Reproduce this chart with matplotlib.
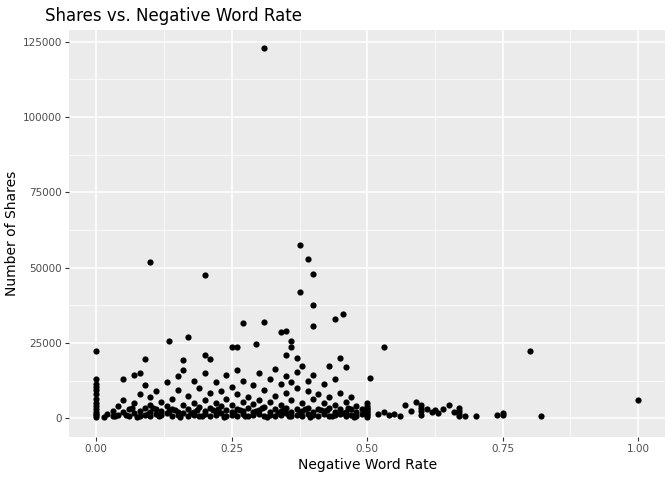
import matplotlib
matplotlib.use('Agg')
import matplotlib.pyplot as plt

# Outliers and sparse points
x_sparse = [0.31, 0.10, 0.20, 0.375, 0.39, 0.40, 0.375, 0.40, 0.40, 0.44, 0.455, 0.27, 0.31, 0.34, 0.35,
            0.17, 0.135, 0.25, 0.26, 0.36, 0.295, 0.0, 0.53, 0.80, 1.0, 0.82, 0.20, 0.21, 0.09, 0.16,
            0.35, 0.36, 0.37, 0.45, 0.43, 0.08, 0.07,
            0.0, 0.0, 0.0, 0.0, 0.0, 0.0, 0.0, 0.0, 0.0, 0.0, 0.0, 0.0, 0.0,
            0.5, 0.5, 0.5, 0.5, 0.5, 0.5, 0.5, 0.5, 0.5, 0.505, 0.75, 0.75, 0.74, 0.67, 0.67, 0.67, 0.67,
            0.6, 0.6, 0.6, 0.6, 0.59, 0.57, 0.55, 0.56, 0.54, 0.53, 0.52, 0.625, 0.64, 0.65, 0.63, 0.70,
            0.68, 0.58, 0.62, 0.66, 0.61]
y_sparse = [122800, 52000, 47500, 57500, 53000, 47800, 42000, 37500, 30500, 33000, 34500, 31500, 32000, 28500, 29000,
            27000, 25500, 23800, 23500, 25500, 24500, 22200, 23500, 22300, 6200, 800, 21000, 19800, 19800, 19500,
            21000, 23800, 20000, 20000, 17500, 15000, 14500,
            13000, 11500, 10500, 9500, 8000, 6500, 5000, 4000, 3000, 2000, 1500, 1000, 500,
            5000, 4000, 3500, 3000, 2500, 2000, 1500, 1000, 500, 13500, 1800, 1000, 1200, 3500, 2500, 1500, 800,
            4500, 3500, 2500, 1200, 5500, 4500, 1500, 900, 1200, 2000, 1500, 2800, 3000, 4300, 1800, 800,
            600, 2300, 2000, 2000, 3000]

# Dense band
x_band = [0.02, 0.03, 0.03, 0.04, 0.04, 0.05, 0.05, 0.05, 0.06, 0.06, 0.07, 0.07, 0.08, 0.08, 0.08, 0.09, 0.09, 0.09,
          0.10, 0.10, 0.10, 0.10, 0.11, 0.11, 0.11, 0.12, 0.12, 0.12, 0.13, 0.13, 0.13, 0.14, 0.14, 0.14,
          0.15, 0.15, 0.15, 0.15, 0.16, 0.16, 0.16, 0.17, 0.17, 0.17, 0.18, 0.18, 0.18, 0.18, 0.19, 0.19, 0.19,
          0.20, 0.20, 0.20, 0.20, 0.21, 0.21, 0.21, 0.22, 0.22, 0.22, 0.22, 0.23, 0.23, 0.23, 0.24, 0.24, 0.24, 0.24,
          0.25, 0.25, 0.25, 0.25, 0.26, 0.26, 0.26, 0.26, 0.27, 0.27, 0.27, 0.27, 0.28, 0.28, 0.28,
          0.29, 0.29, 0.29, 0.29, 0.30, 0.30, 0.30, 0.30, 0.31, 0.31, 0.31, 0.32, 0.32, 0.32, 0.32,
          0.33, 0.33, 0.33, 0.33, 0.34, 0.34, 0.34, 0.34, 0.35, 0.35, 0.35, 0.35, 0.36, 0.36, 0.36, 0.36,
          0.37, 0.37, 0.37, 0.37, 0.38, 0.38, 0.38, 0.38, 0.39, 0.39, 0.39, 0.39, 0.40, 0.40, 0.40, 0.40,
          0.41, 0.41, 0.41, 0.42, 0.42, 0.42, 0.42, 0.43, 0.43, 0.43, 0.44, 0.44, 0.44, 0.44,
          0.45, 0.45, 0.45, 0.46, 0.46, 0.46, 0.46, 0.47, 0.47, 0.47, 0.48, 0.48, 0.48, 0.49, 0.49,
          0.015, 0.035, 0.055, 0.075, 0.095, 0.115, 0.135, 0.155, 0.175, 0.195, 0.215, 0.235, 0.255, 0.275,
          0.295, 0.315, 0.335, 0.355, 0.375, 0.395, 0.415, 0.435, 0.455, 0.475, 0.065, 0.105, 0.145, 0.185,
          0.225, 0.265, 0.305, 0.345, 0.385, 0.425, 0.465]
y_band = [1500, 2500, 800, 4000, 1200, 2000, 6000, 13000, 3000, 900, 5000, 1800, 2500, 8000, 600, 3500, 1200, 11000,
          2000, 7000, 4500, 800, 3000, 1500, 9000, 5500, 1000, 2500, 4000, 1800, 12000, 3000, 700, 6500,
          2200, 14000, 9500, 1100, 4500, 1600, 16000, 3200, 800, 7500, 2000, 5000, 12500, 1200, 3800, 900, 10000,
          2500, 6000, 1500, 15000, 3500, 700, 8500, 2000, 5000, 12000, 1000, 4200, 1600, 9000, 2800, 600, 6500, 14500,
          2000, 4500, 1100, 10500, 3000, 8000, 16000, 800, 2300, 5500, 1300, 12500, 3500, 700, 7000,
          2000, 4800, 11000, 1000, 2800, 6000, 15000, 1500, 3800, 900, 9500, 2200, 5500, 13000, 1200,
          3200, 700, 7500, 16500, 2500, 4500, 11500, 1000, 3500, 1600, 8500, 14000, 2000, 6000, 800, 12000,
          3000, 1200, 10000, 15500, 2500, 5000, 700, 17500, 3500, 1500, 9000, 12500, 2000, 6500, 1000, 14500,
          3000, 800, 8000, 2500, 5000, 11500, 1300, 3500, 700, 7000, 2000, 4500, 13000, 1000,
          3000, 8500, 1500, 2200, 5500, 17000, 900, 3000, 1200, 7000, 2000, 4000, 800, 1500, 3000,
          400, 600, 1000, 500, 1400, 700, 2300, 500, 1900, 600, 2600, 400, 1700, 600,
          2400, 500, 1800, 700, 2100, 500, 2700, 600, 1900, 500, 3500, 3300, 2800, 2900,
          3100, 2700, 3300, 2900, 3200, 2600, 3400]

x_all = x_sparse + x_band
y_all = y_sparse + y_band

fig = plt.figure(figsize=(6.72, 4.80), dpi=100)
ax = fig.add_axes([0.103, 0.09, 0.887, 0.848])
ax.set_facecolor('#EBEBEB')
ax.scatter(x_all, y_all, s=20, color='black', linewidths=0, zorder=3)

ax.set_xlim(-0.05, 1.05)
ax.set_ylim(-6140, 128940)
ax.set_xticks([0, 0.25, 0.5, 0.75, 1.0])
ax.set_xticklabels(['0.00', '0.25', '0.50', '0.75', '1.00'])
ax.set_yticks([0, 25000, 50000, 75000, 100000, 125000])
ax.set_yticklabels(['0', '25000', '50000', '75000', '100000', '125000'])
ax.set_xticks([0.125, 0.375, 0.625, 0.875], minor=True)
ax.set_yticks([12500, 37500, 62500, 87500, 112500], minor=True)
ax.grid(True, which='major', color='white', linewidth=1.1, zorder=0)
ax.grid(True, which='minor', color='white', linewidth=0.5, zorder=0)
ax.set_axisbelow(True)
for s in ax.spines.values():
    s.set_visible(False)
ax.tick_params(which='major', colors='#333333', length=3, pad=2, labelsize=7.5, labelcolor='#4D4D4D')
ax.tick_params(which='minor', length=0)

ax.set_xlabel('Negative Word Rate', fontsize=10, labelpad=3)
ax.set_ylabel('Number of Shares', fontsize=10, labelpad=3)
ax.set_title('Shares vs. Negative Word Rate', fontsize=12, loc='left', x=-0.04)

fig.savefig('out.png', dpi=100)
